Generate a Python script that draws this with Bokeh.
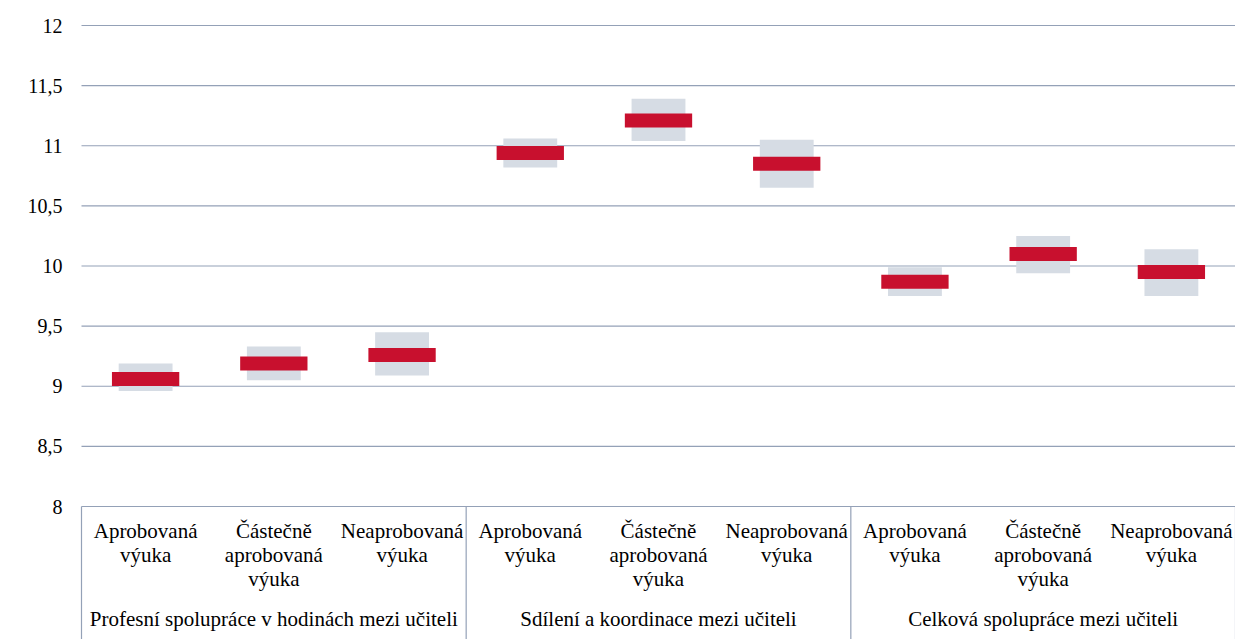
from bokeh.plotting import figure
from bokeh.models import Range1d, ColumnDataSource
from bokeh.core.properties import value
from bokeh.embed import file_html
from bokeh.resources import INLINE

# ---- data ----
groups = ["Profesní spolupráce v hodinách mezi učiteli",
          "Sdílení a koordinace mezi učiteli",
          "Celková spolupráce mezi učiteli"]
categories = ["Aprobovaná\nvýuka", "Částečně\naprobovaná\nvýuka", "Neaprobovaná\nvýuka"]
means = [9.06, 9.19, 9.26, 10.94, 11.21, 10.85, 9.87, 10.10, 9.95]
ci_low = [8.96, 9.05, 9.09, 10.82, 11.04, 10.65, 9.75, 9.94, 9.75]
ci_high = [9.19, 9.33, 9.45, 11.06, 11.39, 11.05, 9.99, 10.25, 10.14]
y_ticks = [8, 8.5, 9, 9.5, 10, 10.5, 11, 11.5, 12]

# ---- layout constants ----
W, H = 1235, 639
PLOT_L, PLOT_T = 81, 25          # pixel position of the plotting area
Y_MIN, Y_MAX = 8, 12
PX_PER_Y = 120.25
n_cat = len(categories) * len(groups)
PX_PER_X = (W - PLOT_L) / n_cat

y_end = Y_MAX + PLOT_T / PX_PER_Y
y_start = y_end - H / PX_PER_Y
x_start = -PLOT_L / PX_PER_X

xs = [i + 0.5 for i in range(n_cat)]
FONT = value("Liberation Serif")
GRID = "#94A1B7"

p = figure(width=W, height=H, output_backend="svg", toolbar_location=None,
           x_range=Range1d(x_start, n_cat), y_range=Range1d(y_start, y_end),
           x_axis_location=None, y_axis_location=None,
           min_border=0)
p.outline_line_color = None
p.grid.grid_line_color = None
p.background_fill_color = "white"
p.border_fill_color = "white"

# horizontal grid lines at the y ticks
p.segment(x0=[0] * len(y_ticks), x1=[n_cat] * len(y_ticks), y0=y_ticks, y1=y_ticks,
          line_color=GRID, line_width=1.2)

# y tick labels (comma decimal separator)
tick_labels = [f"{t:g}".replace(".", ",") for t in y_ticks]
p.text(x=[-19 / PX_PER_X] * len(y_ticks), y=y_ticks, text=tick_labels,
       text_font=FONT, text_font_size="20px", text_align="right",
       text_baseline="middle", text_color="black")

src = ColumnDataSource(dict(x=xs, m=means, lo=ci_low, hi=ci_high))
p.vbar(x="x", bottom="lo", top="hi", width=0.42, source=src,
       fill_color="#D6DCE4", line_color=None)
p.rect(x="x", y="m", width=0.525, height=14, height_units="screen", source=src,
       fill_color="#C8102E", line_color=None)

# separators of the category box
bounds = [g * len(categories) for g in range(len(groups) + 1)]
p.segment(x0=bounds, x1=bounds, y0=[Y_MIN] * len(bounds), y1=[y_start] * len(bounds),
          line_color=GRID, line_width=1.2)

# category labels, line by line
def y_px_below(px):
    return Y_MIN - px / PX_PER_Y

lx, ly, lt = [], [], []
for gi in range(len(groups)):
    for ci, cat in enumerate(categories):
        x = xs[gi * len(categories) + ci]
        for li, line in enumerate(cat.split("\n")):
            lx.append(x)
            ly.append(y_px_below(24 + 24 * li))
            lt.append(line)
p.text(x=lx, y=ly, text=lt, text_font=FONT, text_font_size="21px",
       text_align="center", text_baseline="alphabetic", text_color="black")

gx = [(bounds[i] + bounds[i + 1]) / 2 for i in range(len(groups))]
p.text(x=gx, y=[y_px_below(112)] * len(groups), text=groups,
       text_font=FONT, text_font_size="21px",
       text_align="center", text_baseline="alphabetic", text_color="black")

open("out.html", "w").write(file_html(p, INLINE))
